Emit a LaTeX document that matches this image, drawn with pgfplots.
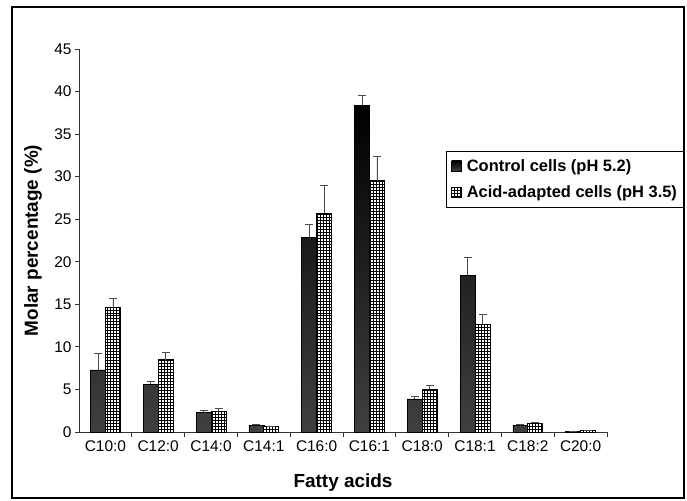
\documentclass[border=0pt]{standalone}
\usepackage{pgfplots}
\pgfplotsset{compat=1.18}
\usepackage{fontspec}
\setmainfont{Liberation Sans}
\usetikzlibrary{patterns}
\begin{document}
\begin{tikzpicture}
\begin{axis}[
  scale only axis, width=528bp, height=383bp,
  xmin=-0.5, xmax=9.5, ymin=0, ymax=45,
  ybar=0pt, bar width=15bp,
  axis x line*=bottom, axis y line*=left,
  axis line style={line width=0.8bp, black!80},
  tick align=outside,
  xtick={0,...,9},
  xticklabels={C10:0,C12:0,C14:0,C14:1,C16:0,C16:1,C18:0,C18:1,C18:2,C20:0},
  major x tick style={draw=none},
  minor xtick={0.5,1.5,...,9.5},
  minor tick length=5bp,
  major tick length=4bp,
  tick style={black!80, line width=0.8bp},
  ytick={0,5,...,45},
  ticklabel style={font=\fontsize{15.5}{18}\selectfont},
  xticklabel style={yshift=-1bp},
  ylabel={\bfseries Molar percentage (\%)},
  xlabel={\bfseries Fatty acids},
  label style={font=\fontsize{19}{22}\selectfont},
  ylabel style={at={(axis description cs:-0.087,0.5)}, anchor=center},
  xlabel style={at={(axis description cs:0.5,-0.133)}, anchor=center},
  /pgf/number format/assume math mode=true,
  legend style={at={(0.695,0.734)}, anchor=north west, draw=black, line width=0.8bp,
    font=\bfseries\fontsize{16.5}{18}\selectfont, row sep=9bp, column sep=3bp,
    inner xsep=5bp, inner ysep=6bp,
    legend cell align=left},
  legend image code/.code={\draw[#1, line width=0.5bp] (0bp,-5bp) rectangle (10bp,5bp);},
  error bars/y dir=plus, error bars/y explicit,
  error bars/error bar style={black!70, line width=0.8bp},
  error bars/error mark options={rotate=90, mark size=4bp, black!70, line width=0.8bp},
]
\addplot[draw=black, line width=0.6bp, top color=black, bottom color=black!75] coordinates {
  (0,7.3) +- (0,1.9)
  (1,5.6) +- (0,0.4)
  (2,2.3) +- (0,0.25)
  (3,0.8) +- (0,0.1)
  (4,22.9) +- (0,1.5)
  (5,38.4) +- (0,1.2)
  (6,3.9) +- (0,0.25)
  (7,18.4) +- (0,2.1)
  (8,0.8) +- (0,0.05)
  (9,0.05) +- (0,0.02)
};
\addlegendentry{Control cells (pH 5.2)}
\addplot[draw=black, line width=1bp, fill=white, postaction={pattern=grid}] coordinates {
  (0,14.6) +- (0,1.1)
  (1,8.5) +- (0,0.9)
  (2,2.4) +- (0,0.4)
  (3,0.6) +- (0,0.1)
  (4,25.7) +- (0,3.3)
  (5,29.5) +- (0,2.9)
  (6,5.0) +- (0,0.5)
  (7,12.6) +- (0,1.2)
  (8,1.0) +- (0,0.15)
  (9,0.15) +- (0,0.05)
};
\addlegendentry{Acid-adapted cells (pH 3.5)}
\end{axis}
\draw[line width=1.2bp] (-67bp,-66bp) rectangle (605bp,425bp);
\path (-79bp,-69bp) rectangle (608bp,432bp);
\end{tikzpicture}
\end{document}
